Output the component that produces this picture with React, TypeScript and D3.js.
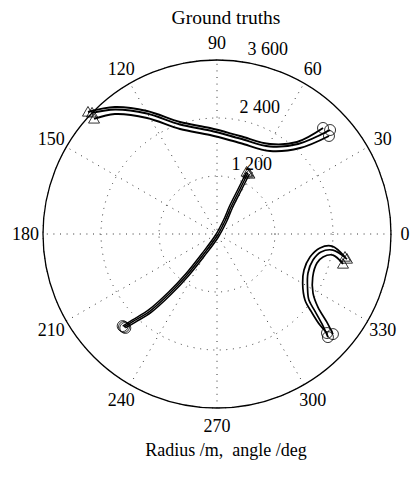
import React from 'react';
import * as d3 from 'd3';

// ---- data (angle in degrees, radius in metres) ----
const angleTicks = [0, 30, 60, 90, 120, 150, 180, 210, 240, 270, 300, 330];
const spokeAngles = [30, 60, 90, 120, 150, 180];
const radiusTicks = [1200, 2400, 3600];
const radiusTickLabels = ['1 200', '2 400', '3 600'];
const radiusMax = 3600;
const titleText = 'Ground truths';
const xLabelText = 'Radius /m,  angle /deg';

// target A (three runs)
const trackA1: [number, number][] = [[136.6, 3674], [128.8, 3370], [119.65, 2928], [108.3, 2440], [93.8, 2198], [76.8, 2083], [59.5, 2161], [49.0, 2523], [45.0, 3102]];
const trackA2: [number, number][] = [[135.9, 3600], [129.3, 3330], [120.2, 2884], [108.7, 2391], [93.9, 2146], [76.5, 2032], [58.8, 2117], [48.0, 2505], [42.6, 3178]];
const trackA3: [number, number][] = [[136.9, 3484], [130.4, 3259], [121.1, 2803], [109.4, 2303], [94.0, 2053], [75.8, 1942], [57.4, 2038], [46.0, 2473], [41.2, 3079]];

// target B
const trackB1: [number, number][] = [[64.5, 1421], [64.9, 1005], [65.8, 635], [64.8, 320], [215.5, 36], [232.4, 522], [231.9, 1052], [230.2, 1563], [228.0, 2115], [225.5, 2493], [224.3, 2727]];
const trackB2: [number, number][] = [[63.1, 1416], [62.9, 999], [62.6, 629], [58.4, 316], [270.0, 41], [236.3, 522], [233.8, 1051], [231.5, 1561], [229.0, 2112], [226.3, 2488], [225.0, 2721]];
const trackB3: [number, number][] = [[61.6, 1411], [60.9, 995], [59.4, 625], [51.9, 315], [295.0, 68], [240.2, 525], [235.7, 1051], [232.8, 1559], [230.0, 2109], [227.2, 2483], [225.7, 2716]];

// target C
const trackC1: [number, number][] = [[349.8, 2691], [354.0, 2392], [352.3, 2150], [346.1, 1982], [337.5, 1948], [330.2, 2042], [323.1, 2276], [320.3, 2557], [318.5, 2843], [318.0, 3062]];
const trackC2: [number, number][] = [[349.1, 2739], [352.1, 2423], [350.2, 2183], [344.8, 2058], [336.8, 2048], [329.2, 2181], [324.3, 2342], [321.8, 2578], [319.4, 2861], [317.1, 3133]];
const trackC3: [number, number][] = [[346.6, 2680], [349.7, 2439], [347.8, 2245], [343.8, 2154], [335.8, 2171], [328.4, 2332], [324.1, 2578], [321.3, 2909], [319.2, 3169]];

const tracks = [trackA1, trackA2, trackA3, trackB1, trackB2, trackB3, trackC1, trackC2, trackC3];
const trackWidths = [1.9, 1.9, 1.9, 1.5, 1.5, 1.5, 1.7, 1.7, 1.7];

// ---- layout ----
const W = 411;
const H = 477;
const CX = 217;
const CY = 234;
const R = 174;
const FONT = '"Liberation Serif", "Times New Roman", Times, serif';

const rScale = d3.scaleLinear().domain([0, radiusMax]).range([0, R]);
const toRad = (deg: number) => (deg * Math.PI) / 180;
const px = (deg: number, r: number) => CX + rScale(r) * Math.cos(toRad(deg));
const py = (deg: number, r: number) => CY - rScale(r) * Math.sin(toRad(deg));

const radialLine = d3
  .lineRadial<[number, number]>()
  .angle((d) => toRad(90 - d[0]))
  .radius((d) => rScale(d[1]))
  .curve(d3.curveCatmullRom.alpha(0.5));

const dotted = { stroke: '#333', strokeWidth: 1, strokeDasharray: '1 5.6', fill: 'none' };

export default function App() {
  const triPath = (x: number, y: number) => {
    const s = 5.5;
    return `M${x},${y - s}L${x + s},${y + s * 0.75}L${x - s},${y + s * 0.75}Z`;
  };
  return (
    <svg
      width={W}
      height={H}
      viewBox={`0 0 ${W} ${H}`}
      style={{ position: 'absolute', left: 0, top: 0, background: '#fff' }}
      fontFamily={FONT}
    >
      <rect x={0} y={0} width={W} height={H} fill="#fff" />
      {radiusTicks.map((v) => (
        <circle key={`ring${v}`} cx={CX} cy={CY} r={rScale(v)} {...dotted} />
      ))}
      {spokeAngles.map((a) => (
        <line
          key={`sp${a}`}
          x1={px(a + 180, radiusMax)}
          y1={py(a + 180, radiusMax)}
          x2={px(a, radiusMax)}
          y2={py(a, radiusMax)}
          {...dotted}
        />
      ))}
      <circle cx={CX} cy={CY} r={rScale(radiusMax)} fill="none" stroke="#000" strokeWidth={1.3} />
      <g transform={`translate(${CX},${CY})`}>
        {tracks.map((t, i) => (
          <path key={`tr${i}`} d={radialLine(t) || ''} fill="none" stroke="#000" strokeWidth={trackWidths[i]} strokeLinejoin="round" />
        ))}
      </g>
      {tracks.map((t, i) => {
        const s = t[0];
        const e = t[t.length - 1];
        return (
          <g key={`mk${i}`} fill="none" stroke="#000" strokeWidth={0.8}>
            <path d={triPath(px(s[0], s[1]), py(s[0], s[1]))} />
            <circle cx={px(e[0], e[1])} cy={py(e[0], e[1])} r={5.5} />
          </g>
        );
      })}
      {angleTicks.map((a) => {
        let x = CX + R * 1.1 * Math.cos(toRad(a));
        if (x > W - 6) x = W - 6;
        return (
          <text
            key={`al${a}`}
            x={x}
            y={CY - R * 1.1 * Math.sin(toRad(a))}
            dy="0.35em"
            textAnchor="middle"
            fontSize={18}
            fill="#000"
          >
            {a}
          </text>
        );
      })}
      {radiusTicks.map((v, i) => (
        <text
          key={`rl${v}`}
          x={px(82, v + radiusMax / 60) + 6}
          y={py(82, v + radiusMax / 60) - 3.5}
          textAnchor="start"
          fontSize={18}
          fill="#000"
        >
          {radiusTickLabels[i]}
        </text>
      ))}
      <text x={226} y={24} textAnchor="middle" fontSize={19.5} fill="#000">
        {titleText}
      </text>
      <text x={226} y={456} textAnchor="middle" fontSize={18} fill="#000" style={{ whiteSpace: 'pre' }}>
        {xLabelText}
      </text>
    </svg>
  );
}
